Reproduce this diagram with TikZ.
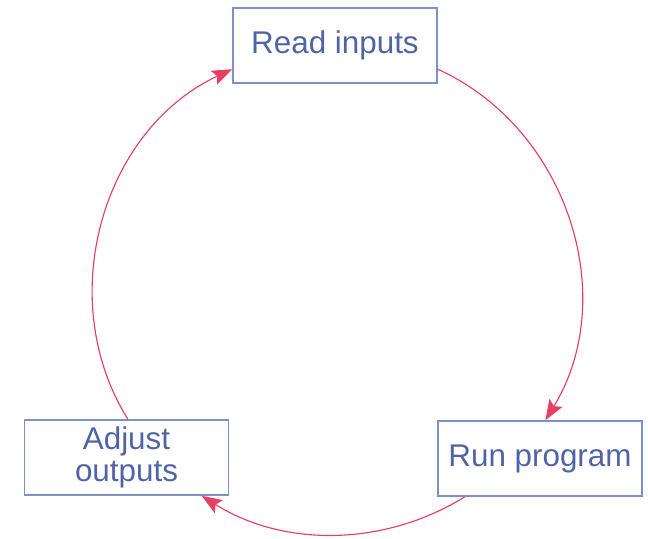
\documentclass[tikz,border=0pt]{standalone}
\usepackage{fontspec}
\setmainfont{Liberation Sans}
\usetikzlibrary{arrows.meta,positioning}

\definecolor{boxblue}{RGB}{125,145,200}
\definecolor{textblue}{RGB}{80,100,165}
\definecolor{looppink}{RGB}{232,62,100}

\begin{document}
\begin{tikzpicture}[
    x=0.013889cm, y=0.013889cm,
    block/.style={rectangle, draw=boxblue, line width=0.6pt, inner sep=0pt, minimum width=2.833cm, minimum height=1.042cm, text=textblue, align=center, font=\fontsize{12.4}{12.6}\selectfont},
    arrow/.style={-{Stealth[length=8pt, width=6pt, inset=1.5pt, fill=looppink]}, draw=looppink, line width=0.45pt}
]

\useasboundingbox (0,0) rectangle (648,539);

% Components
\node[block] (read) at (335,493.5) {Read inputs};
\node[block] (run) at (540,80.5) {Run program};
\node[block] (adjust) at (126.5,81.5) {Adjust\\outputs};

% Loop
\draw[arrow] (read.-13.5) to[bend left=48.5] (run.82);
\draw[arrow] (run.207.5) to[bend left=32, looseness=0.93] (adjust.-27);
\draw[arrow] (adjust.88.5) to[bend left=48.5] (read.193);

\end{tikzpicture}
\end{document}
